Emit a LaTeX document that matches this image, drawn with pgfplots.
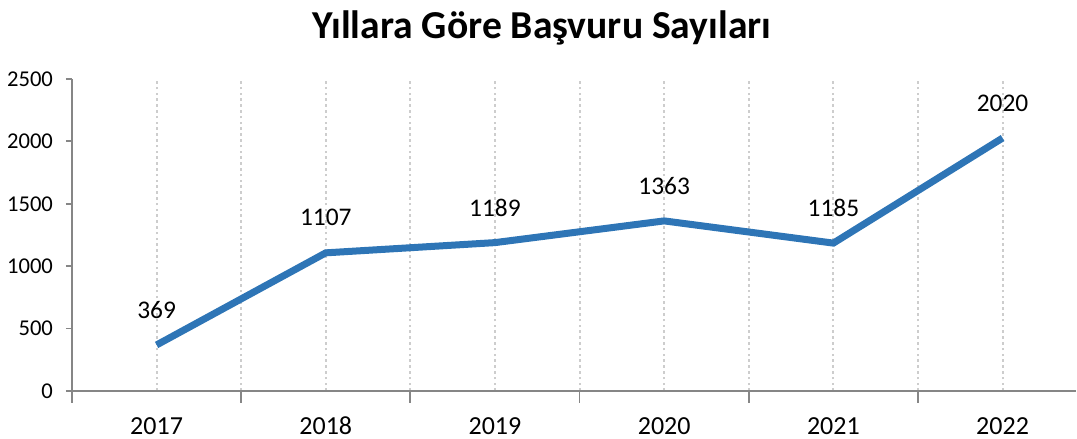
\documentclass[border=0pt]{standalone}
\usepackage{pgfplots}
\pgfplotsset{compat=1.18}
\usepackage{fontspec}
\setmainfont{Carlito}
\definecolor{linecol}{RGB}{46,117,182}
\definecolor{axcol}{RGB}{134,134,134}
\definecolor{gridcol}{RGB}{205,205,205}
\begin{document}
\begin{tikzpicture}
\path[use as bounding box] (0,0) rectangle (538.5pt,219.5pt);
\node[font=\fontsize{19.8}{22}\selectfont\bfseries] at (271pt,205.5pt) {Yıllara Göre Başvuru Sayıları};
\begin{axis}[
  at={(36pt,24pt)}, anchor=south west,
  scale only axis, width=502pt, height=156pt,
  xmin=-0.5, xmax=5.434, ymin=0, ymax=2500,
  axis lines=left, axis line style={-, axcol, line width=0.9pt},
  xtick={0,1,2,3,4,5},
  xticklabels={2017,2018,2019,2020,2021,2022},
  major x tick style={draw=none},
  minor xtick={-0.5,0.5,1.5,2.5,3.5,4.5},
  minor x tick style={axcol, line width=0.9pt},
  minor tick length=6pt,
  xmajorgrids, xminorgrids,
  major grid style={gridcol, line width=1pt, dash pattern=on 1.3pt off 1.6pt},
  minor grid style={gridcol, line width=1pt, dash pattern=on 1.3pt off 1.6pt},
  ytick={0,500,1000,1500,2000,2500},
  y tick style={axcol, line width=0.9pt},
  tick align=outside, major tick length=3pt,
  /pgf/number format/assume math mode=true,
  /pgf/number format/1000 sep={},
  yticklabel style={font=\fontsize{11.3}{13}\selectfont, xshift=-3pt},
  xticklabel style={font=\fontsize{13}{15}\selectfont, text height=9pt, text depth=0pt, yshift=-6pt},
  clip=false,
]
\addplot[linecol, line width=3.5pt,
  nodes near coords, point meta=explicit symbolic,
  every node near coord/.style={font=\fontsize{12.7}{15}\selectfont, anchor=center, yshift=17.5pt, text=black}]
  table[meta=lab] {
x y lab
0 369 369
1 1107 1107
2 1189 1189
3 1363 1363
4 1185 1185
5 2027 2020
};
\end{axis}
\end{tikzpicture}
\end{document}
